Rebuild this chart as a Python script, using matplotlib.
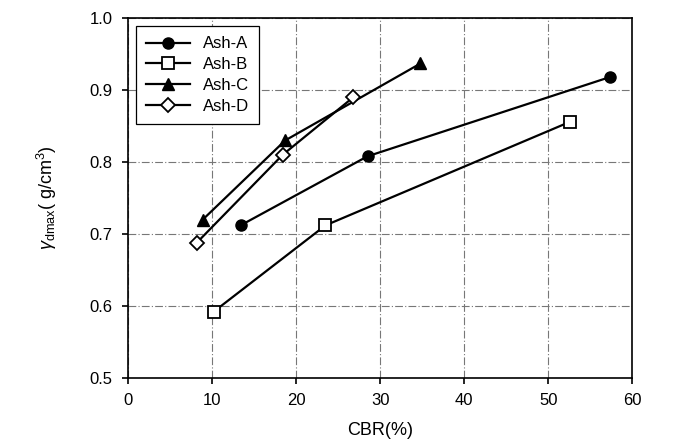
import matplotlib
matplotlib.use('Agg')
import matplotlib.pyplot as plt

plt.rcParams['font.family'] = ['Liberation Sans', 'DejaVu Sans']
plt.rcParams['mathtext.fontset'] = 'custom'
plt.rcParams['mathtext.rm'] = 'Liberation Sans'
plt.rcParams['mathtext.it'] = 'Liberation Sans:italic'

# data
ash_a_x = [13.4, 28.5, 57.3]
ash_a_y = [0.712, 0.808, 0.918]
ash_b_x = [10.2, 23.5, 52.6]
ash_b_y = [0.592, 0.712, 0.856]
ash_c_x = [8.9, 18.7, 34.8]
ash_c_y = [0.720, 0.830, 0.937]
ash_d_x = [8.2, 18.4, 26.8]
ash_d_y = [0.688, 0.810, 0.890]

fig = plt.figure(figsize=(6.77, 4.43), dpi=100)
ax = fig.add_axes([0.189, 0.147, 0.745, 0.812])

ax.plot(ash_a_x, ash_a_y, 'k-', marker='o', ms=8, mfc='k', lw=1.6, label='Ash-A')
ax.plot(ash_b_x, ash_b_y, 'k-', marker='s', ms=8, mfc='white', mew=1.3, lw=1.6, label='Ash-B')
ax.plot(ash_c_x, ash_c_y, 'k-', marker='^', ms=9, mfc='k', lw=1.6, label='Ash-C')
ax.plot(ash_d_x, ash_d_y, 'k-', marker='D', ms=7, mfc='white', mew=1.3, lw=1.6, label='Ash-D')

ax.set_xlim(0, 60)
ax.set_ylim(0.5, 1.0)
ax.set_xticks(range(0, 61, 10))
ax.set_yticks([0.5, 0.6, 0.7, 0.8, 0.9, 1.0])
ax.set_yticklabels(['0.5', '0.6', '0.7', '0.8', '0.9', '1.0'])
ax.grid(True, color='#777777', ls=(0, (7, 2, 1, 2)), lw=0.8)
ax.tick_params(labelsize=12, direction='out', length=4, width=1.2, pad=7)
for s in ax.spines.values():
    s.set_linewidth(1.2)

ax.set_xlabel('CBR(%)', fontsize=13, labelpad=10)
ax.set_ylabel(r'$\gamma_{\mathrm{dmax}}$( g/cm$^3$)', fontsize=13, labelpad=22)

leg = ax.legend(loc='upper left', fontsize=12, fancybox=False, framealpha=1,
                edgecolor='k', borderaxespad=0.5, handlelength=2.6,
                labelspacing=0.35, borderpad=0.6)
leg.get_frame().set_linewidth(0.9)

fig.savefig('out.png', dpi=100)
